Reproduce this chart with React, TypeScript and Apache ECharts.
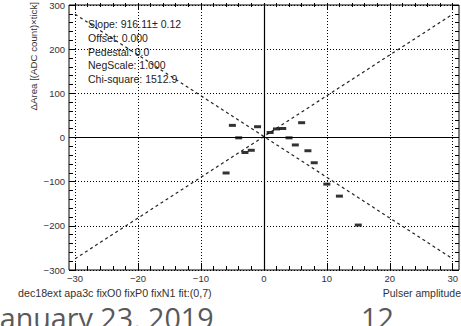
import React, { useEffect, useRef } from "react";
import * as echarts from "echarts";

// ---- data ----
const pointX = [-6, -5, -4, -3, -2, -1, 1, 2, 3, 4, 5, 6, 7, 8, 10, 12, 15];
const pointY = [-82, 25, -3, -36, -31, 22, 9, 17, 18, -3, -19, 31, -32, -59, -107, -134, -199];
const fitPosX = [-30, 30];
const fitPosY = [-274.8, 274.8];
const fitNegX = [-30, 30];
const fitNegY = [274.8, -274.8];
const xRange = [-30, 30];
const yRange = [-300, 300];
const statLines = [
  "Slope: 916.11± 0.12",
  "Offset: 0.000",
  "Pedestal: 0.0",
  "NegScale: 1.000",
  "Chi-square: 1512.9",
];
const xTitle = "Pulser amplitude";
const yTitle = "ΔArea [(ADC count)×tick]";
const caption = "dec18ext apa3c fixO0 fixP0 fixN1 fit:(0,7)";
const dateText = "January 23, 2019";
const pageText = "12";

const SANS = "'Liberation Sans', Arial, Helvetica, sans-serif";
const fmt = (v: number) => (v < 0 ? "\u2212" + Math.abs(v) : String(v));

export default function App() {
  const ref = useRef<HTMLDivElement>(null);
  useEffect(() => {
    if (!ref.current) return;
    const chart = echarts.init(ref.current, undefined, { renderer: "svg" });
    const labelStyle = { fontFamily: SANS, fontSize: 9.5, color: "#333" };
    const tick = { inside: true, length: 7, lineStyle: { color: "#000", width: 1 } };
    const minor = { show: true, splitNumber: 5, length: 4, lineStyle: { color: "#000", width: 1 } };
    const dotted = { show: true, lineStyle: { color: "#000", width: 1, type: [1, 2] } };
    const option: any = {
      animation: false,
      backgroundColor: "#fff",
      grid: [
        { left: 69, right: 2, top: 3, bottom: 56, show: true, borderColor: "#000", borderWidth: 1, backgroundColor: "transparent" },
        { left: 75, right: 2, top: 3, bottom: 56, show: false },
      ],
      xAxis: [
        { gridIndex: 0, type: "value", min: -30.9375, max: xRange[1], show: false },
        {
          gridIndex: 1, type: "value", min: xRange[0], max: xRange[1], interval: 10, position: "bottom",
          axisLine: { show: false, onZero: false }, axisTick: tick, minorTick: minor,
          axisLabel: { ...labelStyle, margin: 3.5, formatter: fmt }, splitLine: dotted,
        },
        {
          gridIndex: 1, type: "value", min: xRange[0], max: xRange[1], interval: 10, position: "top",
          axisLine: { show: false, onZero: false }, axisTick: tick, minorTick: minor,
          axisLabel: { show: false }, splitLine: { show: false },
        },
      ],
      yAxis: [
        {
          gridIndex: 0, type: "value", min: yRange[0], max: yRange[1], interval: 100, position: "left",
          axisLine: { show: false, onZero: false }, axisTick: tick, minorTick: minor,
          axisLabel: { ...labelStyle, margin: 4, formatter: fmt }, splitLine: dotted,
        },
        {
          gridIndex: 0, type: "value", min: yRange[0], max: yRange[1], interval: 100, position: "right",
          axisLine: { show: false, onZero: false }, axisTick: tick, minorTick: minor,
          axisLabel: { show: false }, splitLine: { show: false },
        },
        { gridIndex: 1, type: "value", min: yRange[0], max: yRange[1], show: false },
      ],
      series: [
        {
          type: "line", xAxisIndex: 0, yAxisIndex: 0, data: [[0, 0]], showSymbol: false,
          lineStyle: { width: 0 }, silent: true,
          markLine: {
            silent: true, symbol: "none", label: { show: false },
            lineStyle: { color: "#000", type: "solid", width: 1.2 },
            data: [{ yAxis: 0 }],
          },
        },
        {
          type: "line", xAxisIndex: 1, yAxisIndex: 2, showSymbol: false, symbol: "none",
          data: fitPosX.map((x, i) => [x, fitPosY[i]]),
          lineStyle: { color: "#222", width: 1.2, type: [3, 3] }, z: 3,
        },
        {
          type: "line", xAxisIndex: 1, yAxisIndex: 2, showSymbol: false, symbol: "none",
          data: fitNegX.map((x, i) => [x, fitNegY[i]]),
          lineStyle: { color: "#222", width: 1.2, type: [3, 3] }, z: 3,
        },
        {
          type: "scatter", xAxisIndex: 1, yAxisIndex: 2, symbol: "rect", symbolSize: [7, 3],
          itemStyle: { color: "#000" }, z: 4,
          data: pointX.map((x, i) => [x, pointY[i]]),
          markLine: {
            silent: true, symbol: "none", label: { show: false },
            lineStyle: { color: "#000", type: "solid", width: 1.2 },
            data: [{ xAxis: 0 }],
          },
        },
      ],
      graphic: [
        ...statLines.map((s, i) => ({
          type: "text", x: 88, y: 24 + i * 13.8, z: 10,
          style: { text: s, fontFamily: SANS, fontSize: 10.5, fill: "#222", textAlign: "left", textVerticalAlign: "middle" },
        })),
        {
          type: "text", x: 33, y: 2, rotation: Math.PI / 2,
          style: { text: yTitle, fontFamily: SANS, fontSize: 9.7, fill: "#333", textAlign: "right", textVerticalAlign: "middle" },
        },
        {
          type: "text", x: 461, y: 293,
          style: { text: xTitle, fontFamily: SANS, fontSize: 10.5, fill: "#333", textAlign: "right", textVerticalAlign: "middle" },
        },
        {
          type: "text", x: 18, y: 293,
          style: { text: caption, fontFamily: SANS, fontSize: 10.7, fill: "#333", textAlign: "left", textVerticalAlign: "middle" },
        },
        {
          type: "text", x: -8, y: 317,
          style: { text: dateText, fontFamily: "'Open Sans', sans-serif", fontSize: 28.7, fill: "#595959", textAlign: "left", textVerticalAlign: "middle" },
        },
        {
          type: "text", x: 361, y: 317,
          style: { text: pageText, fontFamily: "'Open Sans', sans-serif", fontSize: 28.7, fill: "#595959", textAlign: "left", textVerticalAlign: "middle" },
        },
      ],
    };
    chart.setOption(option);
    return () => chart.dispose();
  }, []);
  return (
    <div
      ref={ref}
      style={{ position: "absolute", left: 0, top: 0, width: 461, height: 326, background: "#fff" }}
    />
  );
}
